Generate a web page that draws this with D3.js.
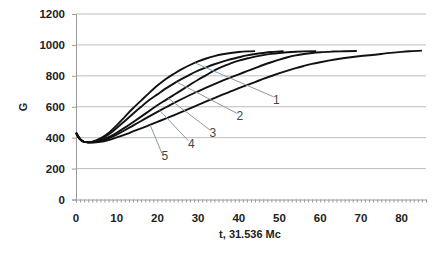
<!DOCTYPE html>
<html>
<head>
<meta charset="utf-8">
<script src="https://cdn.jsdelivr.net/npm/d3@7"></script>
<style>
body { margin: 0; background: #fff; }
svg text { font-family: "Liberation Sans", Arial, sans-serif; }
</style>
</head>
<body>
<div id="chart"></div>
<script>
// values
var t1 = [0,1,2,3,4,6,8,10,12,14,16,18,20,22,24,26,28,30,32,34,36,38,40,42,44]
var g1 = [432,390,373,370,374,395,430,480,535,590,640,690,737,778,812,843,870,893,912,928,940,948,954,958,960]

var t2 = [0,1,2,3,4,6,8,10,12,14,16,18,20,22,24,26,28,30,32,34,36,38,40,42,44,46,48,50,51]
var g2 = [432,390,373,370,372,390,420,462,508,555,600,643,680,717,750,780,808,833,855,875,892,907,920,932,941,948,954,958,960]

var t3 = [0,1,2,3,4,6,8,10,12,14,16,18,20,22,24,26,28,30,32,34,36,38,40,42,44,46,48,50,52,54,56,59]
var g3 = [432,390,373,370,371,382,403,432,465,500,536,573,610,643,676,709,742,775,805,835,860,880,898,912,924,934,942,948,953,956,958,960]

var t4 = [0,1,2,3,4,6,8,10,12,14,16,18,20,22,24,26,28,30,32,34,36,38,40,42,44,46,48,50,52,54,56,58,60,63,66,69]
var g4 = [432,390,373,370,370,378,395,420,448,478,508,538,567,595,623,650,676,700,724,747,769,790,810,830,850,870,888,905,920,932,941,948,953,957,959,961]

var t5 = [0,1,2,3,4,6,8,10,12,14,16,18,20,22,24,26,28,30,32,34,36,38,40,42,44,46,48,50,52,54,56,58,60,62,64,66,68,70,72,74,76,78,80,82,85]
var g5 = [432,390,373,370,369,373,385,402,420,440,460,481,502,523,545,567,590,612,634,656,678,699,720,740,760,780,799,817,834,850,864,877,888,898,907,915,922,928,933,938,945,950,955,959,963]

var curveNames = ['1','2','3','4','5']
// where each leader touches its curve (t) and where its label sits (t, G)
var leaderT = [29.2, 24.7, 22.7, 20.6, 18.2]
var labelT = [48.5, 39.5, 32.9, 27.6, 21.1]
var labelG = [665, 558, 450, 380, 299]

var yTicks = [0,200,400,600,800,1000,1200]
var xTicks = [0,10,20,30,40,50,60,70,80]
var xTitle = 't, 31.536 Mc'
var yTitle = 'G'

var W = 445, H = 266
var margin = {left:76, right:19, top:14, bottom:66.5}
var plotW = W - margin.left - margin.right
var plotH = H - margin.top - margin.bottom

var svg = d3.select('#chart').append('svg')
    .attr('width', W)
    .attr('height', H)

var g = svg.append('g')
    .attr('transform', `translate(${margin.left},${margin.top})`)

var x = d3.scaleLinear().domain([0, 86]).range([0, plotW])
var y = d3.scaleLinear().domain([0, 1200]).range([plotH, 0])

// gridlines
g.append('g').selectAll('line')
    .data(yTicks.filter(d => d > 0))
    .enter().append('line')
    .attr('x1', 0).attr('x2', plotW)
    .attr('y1', d => y(d)).attr('y2', d => y(d))
    .attr('stroke', '#bdbdbd')
    .attr('stroke-width', 1)

// y axis
var ax_y = d3.axisLeft(y).tickValues(yTicks).tickSize(4).tickPadding(7).tickFormat(d3.format('d'))
var gy = g.append('g').call(ax_y)
gy.select('.domain').attr('stroke', '#9a9a9a')
gy.selectAll('.tick line').attr('stroke', '#9a9a9a')
gy.selectAll('text')
    .style('font-size', '11.5px').style('font-weight', 'bold').attr('fill', '#222')

// x axis, minor ticks every 1
var ax_x = d3.axisBottom(x).tickValues(d3.range(0, 87, 1)).tickSize(3).tickFormat('')
var gx = g.append('g').attr('transform', `translate(0,${plotH})`).call(ax_x)
gx.select('.domain').attr('stroke', '#9a9a9a')
gx.selectAll('.tick line').attr('stroke', '#9a9a9a')

g.append('g').selectAll('text')
    .data(xTicks)
    .enter().append('text')
    .attr('x', d => x(d))
    .attr('y', plotH + 22.5)
    .attr('text-anchor', 'middle')
    .style('font-size', '11.5px').style('font-weight', 'bold').attr('fill', '#222')
    .text(d => d)

// titles
svg.append('text')
    .attr('transform', `translate(27,107) rotate(-90)`)
    .attr('text-anchor', 'middle')
    .style('font-size', '11px').style('font-weight', 'bold').attr('fill', '#222')
    .text(yTitle)

svg.append('text')
    .attr('x', 250).attr('y', 237.5)
    .attr('text-anchor', 'middle')
    .style('font-size', '11px').style('font-weight', 'bold').attr('fill', '#222')
    .text(xTitle)

// curves
var curves = [[t1,g1],[t2,g2],[t3,g3],[t4,g4],[t5,g5]]
var line = d3.line()
    .x(d => x(d[0]))
    .y(d => y(d[1]))
    .curve(d3.curveMonotoneX)

g.append('g').selectAll('path')
    .data(curves)
    .enter().append('path')
    .attr('d', c => line(c[0].map((t, i) => [t, c[1][i]])))
    .attr('fill', 'none')
    .attr('stroke', '#111')
    .attr('stroke-width', 1.9)

// leaders and numbers
function valueAt(c, t) {
    var ts = c[0], gs = c[1]
    var i = d3.bisectRight(ts, t) - 1
    var f = (t - ts[i]) / (ts[i + 1] - ts[i])
    return gs[i] + f * (gs[i + 1] - gs[i])
}

curveNames.forEach(function (name, i) {
    var tx = x(labelT[i]), ty = y(labelG[i])
    g.append('line')
        .attr('x1', x(leaderT[i])).attr('y1', y(valueAt(curves[i], leaderT[i])))
        .attr('x2', tx).attr('y2', ty)
        .attr('stroke', '#8a9aa8')
        .attr('stroke-width', 1)
    g.append('text')
        .attr('x', tx + 3).attr('y', ty + 7)
        .attr('text-anchor', 'middle')
        .style('font-size', '12px').attr('fill', '#444')
        .text(name)
})
</script>
</body>
</html>
